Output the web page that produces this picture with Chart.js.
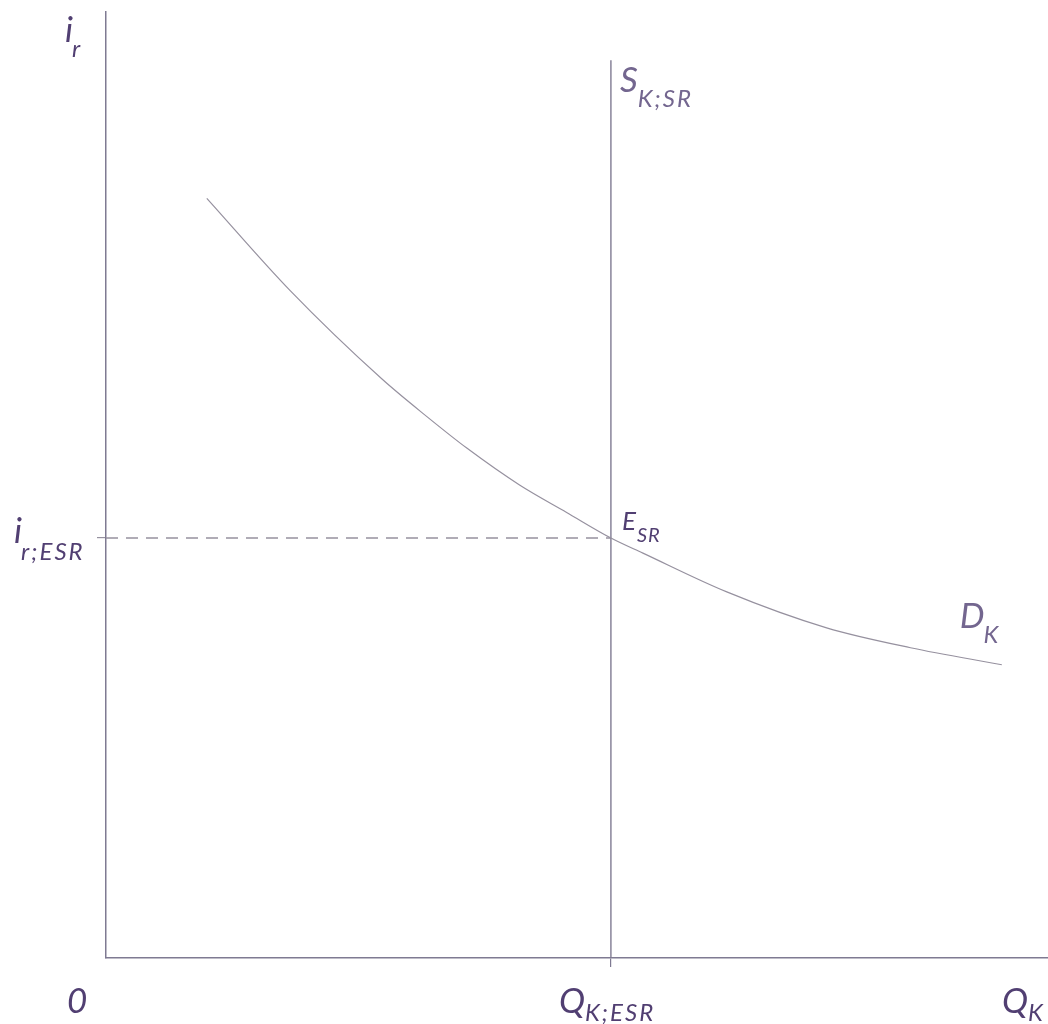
<!DOCTYPE html>
<html>
<head>
<meta charset="utf-8">
<script src="https://cdn.jsdelivr.net/npm/chart.js@4/dist/chart.umd.min.js"></script>
<style>
  html, body { margin: 0; padding: 0; background: #ffffff; }
  #wrap { width: 1048px; height: 1024px; }
</style>
</head>
<body>
<div id="wrap"><canvas id="c" width="1048" height="1024"></canvas></div>
<script>
// ---- data (quantity of capital Q_K, real interest rate i_r) ----
const demandQ = [10.7, 19.5, 29.3, 34.1, 38.3, 43.9, 48.9, 53.6, 57.0, 65.9, 76.5, 85.4, 95.1];
const demandI = [80.3, 70.6, 61.2, 57.2, 53.9, 50.0, 47.1, 44.4, 42.8, 38.7, 34.9, 32.8, 31.0];
const equilibriumQ = 53.6;
const equilibriumI = 44.4;
const supplyTop = 94.9;
const axisMaxQ = 100;
const axisMaxI = 100;
const xTickValues = [equilibriumQ];
const yTickValues = [equilibriumI];

const demandPoints = demandQ.map((q, i) => ({ x: q, y: demandI[i] }));
const supplyPoints = [{ x: equilibriumQ, y: 0 }, { x: equilibriumQ, y: supplyTop }];
const guidePoints = [{ x: 0, y: equilibriumI }, { x: equilibriumQ, y: equilibriumI }];

const AXIS = '#7f7a92';
const CURVE = '#96919f';
const TXT_DARK = '#513f72';
const TXT_LIGHT = '#73668f';
const FONT = '"Lato", "Open Sans", sans-serif';

function drawSub(ctx, x, y, main, sub, mainSize, subSize, color, subDy, gap, spacing) {
  ctx.save();
  ctx.fillStyle = color;
  ctx.textBaseline = 'alphabetic';
  ctx.textAlign = 'left';
  ctx.font = 'italic ' + mainSize + 'px ' + FONT;
  ctx.fillText(main, x, y);
  const w = ctx.measureText(main).width;
  if (sub) {
    ctx.font = 'italic ' + subSize + 'px ' + FONT;
    if ('letterSpacing' in ctx) ctx.letterSpacing = (spacing || 0) + 'px';
    ctx.fillText(sub, x + w + (gap || 0), y + subDy);
  }
  ctx.restore();
}

const labelPlugin = {
  id: 'econLabels',
  afterDraw(chart) {
    const ctx = chart.ctx;
    const xs = chart.scales.x, ys = chart.scales.y;
    const area = chart.chartArea;
    const qE = xs.getPixelForValue(equilibriumQ);
    const iE = ys.getPixelForValue(equilibriumI);
    const sTop = ys.getPixelForValue(supplyTop);
    const lastX = xs.getPixelForValue(demandQ[demandQ.length - 1]);
    const lastY = ys.getPixelForValue(demandI[demandI.length - 1]);
    const base = area.bottom + 55;

    drawSub(ctx, area.left - 41, area.top + 30, 'i', 'r', 35, 24, TXT_DARK, 15, -1, 0);
    drawSub(ctx, area.left - 92, iE + 5, 'i', 'r;ESR', 35, 24, TXT_DARK, 17, -1, 2);
    drawSub(ctx, qE + 9, sTop + 32, 'S', 'K;SR', 35, 24, TXT_LIGHT, 15, 0, 2);
    drawSub(ctx, qE + 11, iE - 8, 'E', 'SR', 26, 20, TXT_DARK, 12, 1, 1);
    drawSub(ctx, lastX - 42, lastY - 37, 'D', 'K', 35, 24, TXT_LIGHT, 15, -1, 0);

    drawSub(ctx, area.left - 39, base, '0', '', 35, 24, TXT_DARK, 0, 0, 0);
    drawSub(ctx, qE - 52, base, 'Q', 'K;ESR', 35, 24, TXT_DARK, 8, 0, 2);
    drawSub(ctx, area.right - 46, base, 'Q', 'K', 35, 24, TXT_DARK, 8, 0, 0);
  }
};

new Chart(document.getElementById('c'), {
  type: 'line',
  data: {
    datasets: [
      {
        label: 'D_K',
        data: demandPoints,
        borderColor: CURVE,
        borderWidth: 1.2,
        pointRadius: 0,
        tension: 0.4,
        cubicInterpolationMode: 'monotone',
        fill: false
      },
      {
        label: 'S_K;SR',
        data: supplyPoints,
        borderColor: AXIS,
        borderWidth: 1.4,
        pointRadius: 0,
        fill: false
      },
      {
        label: 'i_r;ESR',
        data: guidePoints,
        borderColor: CURVE,
        borderWidth: 1.4,
        borderDash: [12, 8],
        pointRadius: 0,
        fill: false
      }
    ]
  },
  options: {
    responsive: false,
    animation: false,
    events: [],
    layout: { padding: { left: 97, top: 12, right: 0, bottom: 57 } },
    plugins: { legend: { display: false }, tooltip: { enabled: false } },
    scales: {
      x: {
        type: 'linear',
        min: 0,
        max: axisMaxQ,
        afterBuildTicks: (s) => { s.ticks = xTickValues.map(v => ({ value: v })); },
        ticks: { display: false },
        grid: { drawOnChartArea: false, drawTicks: true, tickLength: 9, color: AXIS, lineWidth: 1.2 },
        border: { display: true, color: AXIS, width: 1.5 }
      },
      y: {
        type: 'linear',
        min: 0,
        max: axisMaxI,
        afterBuildTicks: (s) => { s.ticks = yTickValues.map(v => ({ value: v })); },
        ticks: { display: false },
        grid: { drawOnChartArea: false, drawTicks: true, tickLength: 9, color: CURVE, lineWidth: 1.2 },
        border: { display: true, color: AXIS, width: 1.5 }
      }
    }
  },
  plugins: [labelPlugin]
});
</script>
</body>
</html>
